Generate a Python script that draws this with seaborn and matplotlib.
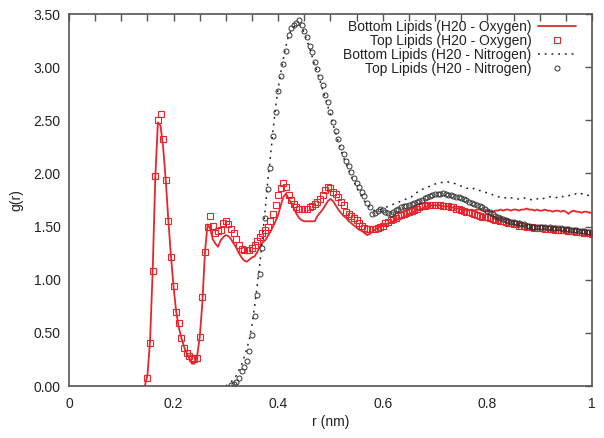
import numpy as np
import pandas as pd
import matplotlib
matplotlib.use("Agg")
import matplotlib.pyplot as plt
from matplotlib.ticker import MultipleLocator, FormatStrFormatter
import seaborn as sns

# ---------------------------------------------------------------
# data (r in nm, step 0.005)
# ---------------------------------------------------------------
r_bottom_oxy_start = 0.145
bottom_oxy = [
    0.00,
    0.10, 0.42, 1.08, 1.96, 2.48, 2.45, 2.25, 1.94, 1.56, 1.22,
    0.93, 0.70, 0.55, 0.45, 0.37, 0.31, 0.26, 0.21, 0.21, 0.28,
    0.46, 0.78, 1.26, 1.52, 1.48, 1.38, 1.34, 1.31, 1.37, 1.40,
    1.42, 1.41, 1.38, 1.34, 1.30, 1.25, 1.21, 1.18, 1.17, 1.19,
    1.21, 1.22, 1.26, 1.31, 1.35, 1.37, 1.41, 1.45, 1.50, 1.55,
    1.61, 1.70, 1.78, 1.81, 1.76, 1.72, 1.67, 1.62, 1.58, 1.56,
    1.55, 1.55, 1.55, 1.55, 1.55, 1.60, 1.63, 1.66, 1.70, 1.74,
    1.76, 1.74, 1.70, 1.66, 1.63, 1.60, 1.58, 1.55, 1.53, 1.51,
    1.49, 1.47, 1.46, 1.44, 1.42, 1.43, 1.45, 1.47, 1.49, 1.50,
    1.51, 1.52, 1.53, 1.54, 1.55, 1.56, 1.57, 1.58, 1.59, 1.60,
    1.62, 1.63, 1.64, 1.65, 1.66, 1.67, 1.68, 1.69, 1.70, 1.70,
    1.70, 1.70, 1.70, 1.69, 1.69, 1.69, 1.68, 1.68, 1.67, 1.67,
    1.66, 1.66, 1.66, 1.65, 1.66, 1.65, 1.66, 1.66, 1.65, 1.64,
    1.65, 1.64, 1.64, 1.65, 1.65, 1.66, 1.65, 1.66, 1.66, 1.65,
    1.66, 1.66, 1.65, 1.66, 1.66, 1.67, 1.66, 1.66, 1.65, 1.66,
    1.65, 1.65, 1.66, 1.65, 1.65, 1.64, 1.65, 1.65, 1.64, 1.65,
    1.64, 1.62, 1.64, 1.65, 1.64, 1.64, 1.63, 1.64, 1.64, 1.63,
    1.63,
]

r_top_oxy_start = 0.150
top_oxy = [
    0.08, 0.40, 1.08, 1.98, 2.50, 2.56, 2.32, 1.94, 1.55, 1.21,
    0.94, 0.70, 0.59, 0.45, 0.36, 0.31, 0.28, 0.26, 0.25, 0.26,
    0.46, 0.84, 1.26, 1.50, 1.60, 1.51, 1.44, 1.46, 1.47, 1.53,
    1.55, 1.52, 1.48, 1.44, 1.38, 1.33, 1.29, 1.28, 1.28, 1.28,
    1.30, 1.33, 1.36, 1.40, 1.44, 1.47, 1.50, 1.55, 1.62, 1.70,
    1.80, 1.86, 1.91, 1.87, 1.80, 1.75, 1.71, 1.68, 1.67, 1.67,
    1.67, 1.67, 1.68, 1.69, 1.71, 1.73, 1.76, 1.80, 1.84, 1.87,
    1.86, 1.83, 1.81, 1.78, 1.73, 1.70, 1.64, 1.62, 1.60, 1.58,
    1.56, 1.53, 1.51, 1.49, 1.48, 1.48, 1.48, 1.48, 1.49, 1.50,
    1.51, 1.53, 1.54, 1.56, 1.57, 1.58, 1.60, 1.61, 1.62, 1.63,
    1.64, 1.65, 1.66, 1.67, 1.68, 1.69, 1.69, 1.70, 1.70, 1.70,
    1.70, 1.70, 1.70, 1.69, 1.69, 1.69, 1.68, 1.68, 1.67, 1.67,
    1.66, 1.65, 1.64, 1.64, 1.63, 1.62, 1.61, 1.60, 1.59, 1.59,
    1.59, 1.58, 1.57, 1.56, 1.56, 1.55, 1.55, 1.54, 1.53, 1.53,
    1.52, 1.52, 1.51, 1.51, 1.51, 1.50, 1.50, 1.50, 1.49, 1.49,
    1.49, 1.49, 1.48, 1.48, 1.48, 1.48, 1.47, 1.47, 1.47, 1.47,
    1.47, 1.46, 1.46, 1.46, 1.45, 1.45, 1.45, 1.44, 1.44, 1.44,
    1.43,
]

r_bottom_nit_start = 0.300
bottom_nit = [
    0.00, 0.02, 0.04, 0.06, 0.10, 0.15, 0.20, 0.27, 0.35, 0.44,
    0.58, 0.75, 0.95, 1.15, 1.40, 1.65, 1.92, 2.15, 2.40, 2.62,
    2.80, 2.95, 3.08, 3.20, 3.30, 3.35, 3.38, 3.40, 3.40, 3.37,
    3.32, 3.25, 3.18, 3.10, 3.02, 2.95, 2.87, 2.79, 2.71, 2.63,
    2.55, 2.46, 2.38, 2.30, 2.22, 2.15, 2.09, 2.03, 1.97, 1.92,
    1.87, 1.82, 1.78, 1.74, 1.71, 1.68, 1.66, 1.65, 1.65, 1.66,
    1.67, 1.68, 1.69, 1.70, 1.71, 1.72, 1.73, 1.74, 1.75, 1.76,
    1.77, 1.78, 1.80, 1.82, 1.84, 1.85, 1.86, 1.87, 1.88, 1.89,
    1.90, 1.91, 1.91, 1.92, 1.92, 1.92, 1.91, 1.91, 1.90, 1.89,
    1.88, 1.87, 1.86, 1.86, 1.85, 1.86, 1.85, 1.84, 1.83, 1.82,
    1.82, 1.81, 1.80, 1.79, 1.78, 1.78, 1.77, 1.77, 1.76, 1.77,
    1.77, 1.76, 1.76, 1.77, 1.77, 1.76, 1.76, 1.75, 1.76, 1.76,
    1.77, 1.76, 1.77, 1.78, 1.78, 1.78, 1.77, 1.78, 1.79, 1.78,
    1.79, 1.79, 1.80, 1.80, 1.81, 1.80, 1.81, 1.80, 1.79, 1.80,
    1.80,
]

r_top_nit_start = 0.310
top_nit = [
    0.01, 0.02, 0.04, 0.08, 0.14, 0.18, 0.24, 0.33,
    0.48, 0.66, 0.86, 1.05, 1.30, 1.58, 1.85, 2.05, 2.35, 2.58,
    2.78, 2.92, 3.03, 3.15, 3.30, 3.37, 3.40, 3.42, 3.44, 3.40,
    3.34, 3.28, 3.20, 3.14, 3.05, 2.98, 2.91, 2.83, 2.74, 2.67,
    2.58, 2.48, 2.40, 2.32, 2.25, 2.18, 2.12, 2.07, 2.01, 1.96,
    1.91, 1.87, 1.83, 1.79, 1.72, 1.68, 1.62, 1.63, 1.65, 1.67,
    1.66, 1.64, 1.63, 1.62, 1.64, 1.66, 1.67, 1.68, 1.69, 1.69,
    1.70, 1.71, 1.72, 1.73, 1.74, 1.75, 1.77, 1.78, 1.79, 1.80,
    1.81, 1.81, 1.81, 1.82, 1.81, 1.80, 1.80, 1.79, 1.78, 1.78,
    1.77, 1.76, 1.75, 1.73, 1.72, 1.71, 1.70, 1.69, 1.68, 1.67,
    1.65, 1.64, 1.62, 1.60, 1.59, 1.58, 1.57, 1.56, 1.55, 1.54,
    1.54, 1.53, 1.53, 1.52, 1.52, 1.51, 1.51, 1.50, 1.50, 1.50,
    1.50, 1.50, 1.50, 1.49, 1.50, 1.49, 1.49, 1.49, 1.49, 1.48,
    1.48, 1.48, 1.47, 1.47, 1.47, 1.46, 1.46, 1.46, 1.45, 1.45,
    1.44,
]

labels = [
    "Bottom Lipids (H20 - Oxygen)",
    "Top Lipids (H20 - Oxygen)",
    "Bottom Lipids (H20 - Nitrogen)",
    "Top Lipids (H20 - Nitrogen)",
]
x_ticks = [0, 0.2, 0.4, 0.6, 0.8, 1.0]
x_tick_labels = ["0", "0.2", "0.4", "0.6", "0.8", "1"]
y_ticks = [0, 0.5, 1.0, 1.5, 2.0, 2.5, 3.0, 3.5]


def r_grid(start, n):
    return np.round(start + 0.005 * np.arange(n), 3)


df_bo = pd.DataFrame({"r": r_grid(r_bottom_oxy_start, len(bottom_oxy)), "g": bottom_oxy})
df_to = pd.DataFrame({"r": r_grid(r_top_oxy_start, len(top_oxy)), "g": top_oxy})
df_bn = pd.DataFrame({"r": r_grid(r_bottom_nit_start, len(bottom_nit)), "g": bottom_nit})
df_tn = pd.DataFrame({"r": r_grid(r_top_nit_start, len(top_nit)), "g": top_nit})

sns.set_theme(style="white")
plt.rcParams["font.family"] = ["Liberation Sans", "DejaVu Sans"]

RED = "#e6262c"
GRAY = "#555555"

fig = plt.figure(figsize=(6.04, 4.38), dpi=100)
ax = fig.add_axes([0.1142, 0.1187, 0.8659, 0.8493])

sns.lineplot(data=df_bo, x="r", y="g", ax=ax, color=RED, lw=1.3,
             label=labels[0], estimator=None)
sns.lineplot(data=df_to, x="r", y="g", ax=ax, color=RED, ls="none",
             marker="s", ms=4, mfc="none", mec=RED, mew=0.8,
             label=labels[1], estimator=None)
sns.lineplot(data=df_bn, x="r", y="g", ax=ax, color="#222222", lw=1.1,
             ls=(0, (1.2, 3.2)), label=labels[2], estimator=None)
sns.lineplot(data=df_tn, x="r", y="g", ax=ax, color="#333333", ls="none",
             marker="o", ms=3.6, mfc="none", mec="#333333", mew=0.7,
             label=labels[3], estimator=None)

ax.set_xlim(0, 1)
ax.set_ylim(0, 3.5)
ax.set_xticks(x_ticks)
ax.set_xticklabels(x_tick_labels)
ax.xaxis.set_minor_locator(MultipleLocator(0.05))
ax.set_yticks(y_ticks)
ax.yaxis.set_major_formatter(FormatStrFormatter("%.2f"))

ax.tick_params(which="both", direction="in", top=True, right=True,
               length=5, width=1, color=GRAY)
ax.tick_params(axis="x", which="major", pad=8, labelsize=10, labelcolor="#222222")
ax.tick_params(axis="y", which="major", pad=6, labelsize=10, labelcolor="#222222")

for sp in ax.spines.values():
    sp.set_color(GRAY)
    sp.set_linewidth(1.2)

ax.set_xlabel("r (nm)", fontsize=10, color="#222222", labelpad=3)
ax.set_ylabel("g(r)", fontsize=10, color="#222222", labelpad=7)

leg = ax.legend(loc="upper right", bbox_to_anchor=(0.98, 1.0), frameon=False,
                markerfirst=False, handlelength=2.7, handletextpad=0.5,
                labelspacing=0.0, borderaxespad=0, numpoints=1, fontsize=10)
for t in leg.get_texts():
    t.set_color("#222222")

fig.savefig("out.png", dpi=100)
